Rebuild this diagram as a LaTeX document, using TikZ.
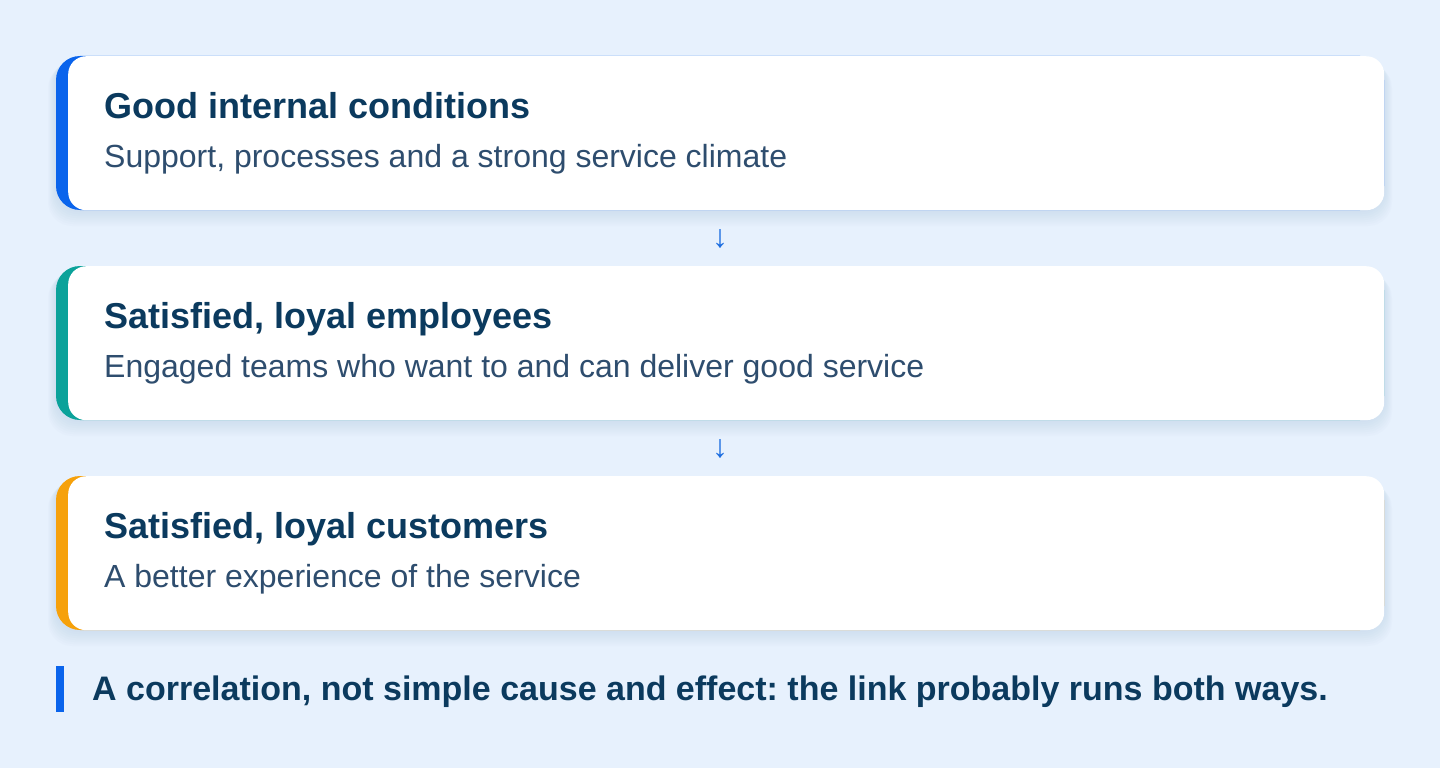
\documentclass[tikz,border=0pt]{standalone}
\usepackage{fontspec}
\setmainfont{Liberation Sans}
\frenchspacing
\definecolor{pagebg}{HTML}{E7F1FD}
\definecolor{titleink}{HTML}{0B3A5E}
\definecolor{subink}{HTML}{2E4D6E}
\definecolor{accblue}{HTML}{0A64EC}
\definecolor{accteal}{HTML}{0BA29A}
\definecolor{accorange}{HTML}{F6A10B}
\definecolor{arrowink}{HTML}{1A6CE0}
\definecolor{shadowink}{HTML}{9DB6D8}

\begin{document}
\begin{tikzpicture}[x=1pt,y=-1pt,
  cardbox/.style={fill=white,rounded corners=18pt,anchor=north west,
    minimum width=1316pt,minimum height=154pt,inner sep=0pt},
  cardtitle/.style={anchor=base west,inner sep=0pt,text=titleink,
    font=\fontsize{36}{42}\selectfont\bfseries},
  cardsub/.style={anchor=base west,inner sep=0pt,text=subink,
    font=\fontsize{32}{38}\selectfont},
  notetext/.style={anchor=base west,inner sep=0pt,text=titleink,
    font=\fontsize{34}{40}\selectfont\bfseries},
  flowglyph/.style={inner sep=0pt,text=arrowink,font=\fontsize{32}{38}\selectfont}]
  % page
  \fill[pagebg] (0,0) rectangle (1440,768);
  \useasboundingbox (0,0) rectangle (1440,768);

  % cards
  \foreach \y/\accent/\cardName/\cardTitle/\cardSub in {
    56/accblue/cond/{Good internal conditions}/{Support, processes and a strong service climate},
    266/accteal/staff/{Satisfied, loyal employees}/{Engaged teams who want to and can deliver good service},
    476/accorange/cust/{Satisfied, loyal customers}/{A better experience of the service}}
  {
    % soft shadow
    \foreach \s in {2,4,...,16}
      \fill[shadowink,opacity=0.035,rounded corners=24pt]
        (56-\s/2,\y+\s/2) rectangle (1384+\s/2,\y+154+\s);
    \fill[\accent,rounded corners=24pt] (56,\y) rectangle ++(1328,154);
    \node[cardbox] (\cardName) at (68,\y) {};
    \node[cardtitle] (\cardName-title) at (104,\y+62) {\cardTitle};
    \node[cardsub] (\cardName-sub) at (104,\y+111) {\cardSub};
  }

  % arrows between cards
  \node[flowglyph] (condToStaff) at (720,239) {↓};
  \node[flowglyph] (staffToCust) at (720,449) {↓};

  % closing note
  \fill[accblue] (56,666) rectangle (64,712);
  \node[notetext] (note) at (92,700) {A correlation, not simple cause and effect: the link probably runs both ways.};
\end{tikzpicture}
\end{document}
